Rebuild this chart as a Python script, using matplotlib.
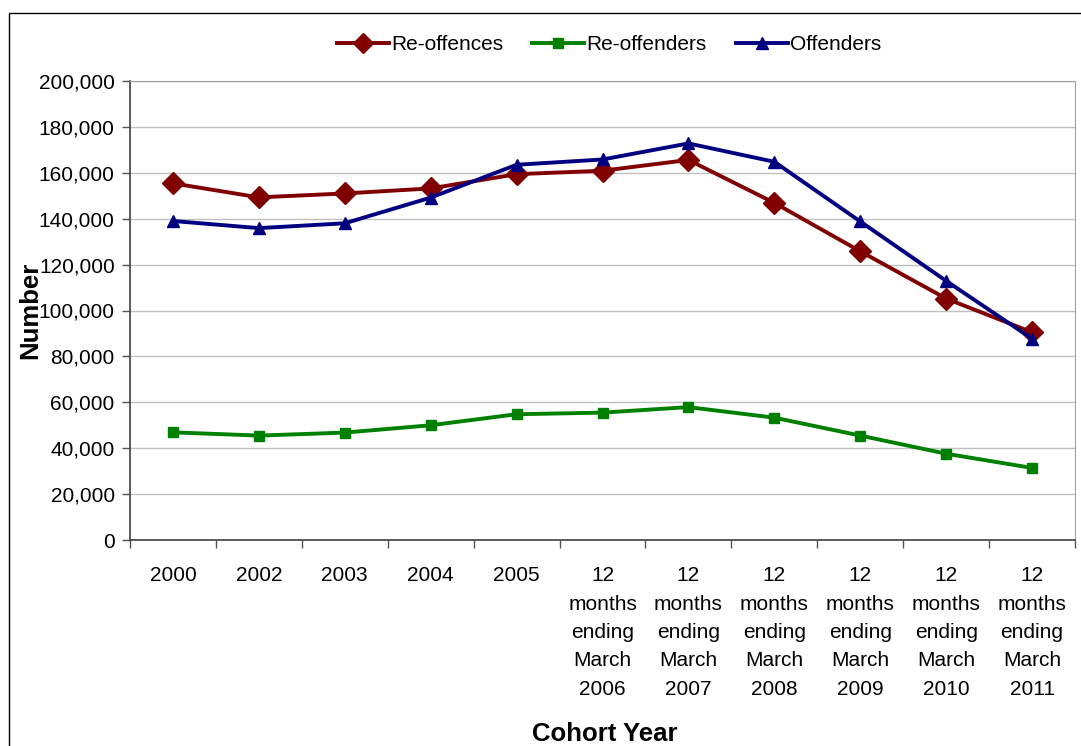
import matplotlib
matplotlib.use("Agg")
import matplotlib.pyplot as plt
from matplotlib.patches import Rectangle

# Cohort categories and series values
categories = ["2000", "2002", "2003", "2004", "2005",
              "12\nmonths\nending\nMarch\n2006",
              "12\nmonths\nending\nMarch\n2007",
              "12\nmonths\nending\nMarch\n2008",
              "12\nmonths\nending\nMarch\n2009",
              "12\nmonths\nending\nMarch\n2010",
              "12\nmonths\nending\nMarch\n2011"]
re_offences = [155400, 149300, 151000, 153200, 159400, 160900, 165600, 146900, 125800, 105200, 90500]
re_offenders = [46900, 45500, 46800, 50000, 54800, 55500, 57900, 53300, 45500, 37600, 31400]
offenders = [139000, 135900, 138000, 149200, 163500, 165800, 172800, 164800, 138800, 112900, 87700]
y_ticks = list(range(0, 200001, 20000))

plt.rcParams['font.family'] = ['Liberation Sans', 'DejaVu Sans']

W, H = 1081, 746
fig = plt.figure(figsize=(W / 100, H / 100), dpi=100)
ax = fig.add_axes([130 / W, 1 - 540 / H, (1075 - 130) / W, (540 - 81) / H])

# outer chart border
fig.patches.append(Rectangle((9 / W, -0.05), 1.2, 1 - 13 / H + 0.05,
                             transform=fig.transFigure, fill=False,
                             edgecolor='black', linewidth=1.0))

x = list(range(len(categories)))
ax.plot(x, re_offences, color='#800000', lw=2.8, marker='D', ms=11, label='Re-offences', zorder=3)
ax.plot(x, re_offenders, color='#008000', lw=2.8, marker='s', ms=7.5, label='Re-offenders', zorder=3)
ax.plot(x, offenders, color='#000080', lw=2.8, marker='^', ms=9, label='Offenders', zorder=4)

ax.set_xlim(-0.5, len(categories) - 0.5)
ax.set_ylim(0, 200000)
ax.set_yticks(y_ticks)
ax.set_yticklabels([f"{v:,}" for v in y_ticks])
ax.yaxis.grid(True, color='#c0c0c0', lw=1.0)
ax.set_axisbelow(True)

# category labels centred under each point; ticks between categories
ax.set_xticks(x)
ax.set_xticklabels(categories, linespacing=1.62, va='top')
ax.set_xticks([i - 0.5 for i in range(len(categories) + 1)], minor=True)
ax.tick_params(axis='x', which='major', length=0, pad=19, labelsize=15)
ax.tick_params(axis='x', which='minor', length=6, width=1, color='#555555', direction='out')
ax.tick_params(axis='y', length=6, width=1, color='#555555', direction='out', pad=5, labelsize=15)

for side in ['top', 'right']:
    ax.spines[side].set_color('#a0a0a0')
for side in ['left', 'bottom']:
    ax.spines[side].set_color('#404040')
    ax.spines[side].set_linewidth(1.2)

fig.text(30 / W, 1 - 310 / H, "Number", rotation=90, ha='center', va='center',
         fontsize=18.5, fontweight='bold')
fig.text(605 / W, 1 - 734 / H, "Cohort Year", ha='center', va='center',
         fontsize=18.5, fontweight='bold')

fig.legend(loc='center', bbox_to_anchor=(609 / W, 1 - 45 / H), ncol=3, frameon=False,
           handlelength=2.5, handletextpad=0.1, columnspacing=1.4, fontsize=15,
           numpoints=1, markerscale=0.95)

fig.savefig("out.png", dpi=100)
